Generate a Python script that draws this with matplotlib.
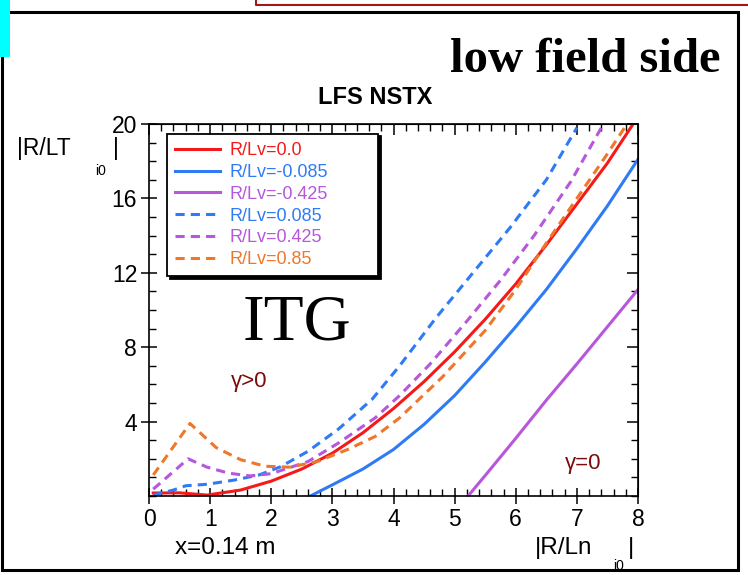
import matplotlib
matplotlib.use('Agg')
import matplotlib.pyplot as plt
from matplotlib.patches import Rectangle
from matplotlib.lines import Line2D

# --- data ---
red_x = [0.07, 0.5, 0.95, 1.5, 2.0, 2.5, 3.0, 3.5, 4.0, 4.5, 5.0, 5.5, 6.0, 6.5, 7.0, 7.5, 7.92]
red_y = [0.16, 0.17, 0.05, 0.32, 0.8, 1.45, 2.3, 3.4, 4.7, 6.15, 7.75, 9.5, 11.4, 13.5, 15.7, 17.9, 20.0]

blue_x = [2.64, 3.0, 3.5, 4.0, 4.5, 5.0, 5.5, 6.0, 6.5, 7.0, 7.5, 8.0]
blue_y = [0.0, 0.6, 1.45, 2.5, 3.85, 5.4, 7.2, 9.1, 11.1, 13.3, 15.6, 18.1]

purple_x = [5.22, 5.5, 6.0, 6.5, 7.0, 7.5, 8.0]
purple_y = [0.0, 1.1, 3.1, 5.15, 7.1, 9.1, 11.1]

blue_d_x = [0.07, 0.4, 0.6, 0.95, 1.4, 1.8, 2.15, 2.6, 3.1, 3.65, 4.1, 4.7, 5.3, 5.9, 6.5, 7.0]
blue_d_y = [0.05, 0.32, 0.55, 0.63, 0.86, 1.13, 1.57, 2.4, 3.6, 5.2, 7.0, 9.6, 12.0, 14.4, 17.0, 19.8]

purple_d_x = [0.07, 0.64, 0.95, 1.3, 1.65, 2.0, 2.6, 3.1, 3.7, 4.1, 4.6, 5.2, 5.75, 6.3, 6.9, 7.4]
purple_d_y = [0.37, 2.0, 1.55, 1.23, 1.08, 1.2, 1.85, 2.85, 4.2, 5.4, 7.1, 9.4, 11.6, 14.0, 16.9, 19.8]

orange_d_x = [0.07, 0.67, 1.1, 1.5, 1.9, 2.3, 2.75, 3.25, 3.7, 4.1, 4.8, 5.5, 6.0, 6.5, 7.0, 7.5, 7.82]
orange_d_y = [1.13, 3.9, 2.6, 1.95, 1.6, 1.55, 1.85, 2.5, 3.2, 4.2, 6.4, 8.9, 11.1, 13.6, 16.0, 18.4, 20.0]

labels = ['R/Lv=0.0', 'R/Lv=-0.085', 'R/Lv=-0.425', 'R/Lv=0.085', 'R/Lv=0.425', 'R/Lv=0.85']
colors = ['#f41a1a', '#2f7bf5', '#b657dc', '#2f7bf5', '#b657dc', '#f0762a']

x_ticks = [0, 1, 2, 3, 4, 5, 6, 7, 8]
y_ticks = [4, 8, 12, 16, 20]

plt.rcParams['font.family'] = ['Liberation Sans', 'DejaVu Sans']

W, H = 748, 575
fig = plt.figure(figsize=(W / 100, H / 100), dpi=100)

# decorations around the slide
fig.patches.append(Rectangle((1.5 / W, 1 - 570 / H), 736.5 / W, 558 / H, transform=fig.transFigure,
                             fill=False, edgecolor='black', linewidth=2.2))
fig.patches.append(Rectangle((0, 1 - 57 / H), 10 / W, 57 / H, transform=fig.transFigure,
                             facecolor='#00ffff', edgecolor='none'))
fig.lines.append(Line2D([256 / W, 256 / W, 1], [1.0, 1 - 5 / H, 1 - 5 / H], transform=fig.transFigure,
                        color='#a01818', linewidth=1.5))

ax = fig.add_axes([149 / W, 1 - 496 / H, 489 / W, 372 / H])

dash = (3, 2)
ax.plot(red_x, red_y, color=colors[0], lw=2.2, label=labels[0])
ax.plot(blue_x, blue_y, color=colors[1], lw=2.2, label=labels[1])
ax.plot(purple_x, purple_y, color=colors[2], lw=2.2, label=labels[2])
ax.plot(blue_d_x, blue_d_y, color=colors[3], lw=2.2, dashes=dash, label=labels[3])
ax.plot(purple_d_x, purple_d_y, color=colors[4], lw=2.2, dashes=dash, label=labels[4])
ax.plot(orange_d_x, orange_d_y, color=colors[5], lw=2.2, dashes=dash, label=labels[5])

ax.set_xlim(0, 8)
ax.set_ylim(0, 20)
ax.set_xticks(x_ticks)
ax.set_yticks(y_ticks)
ax.set_xticks([i * 0.2 for i in range(41)], minor=True)
ax.set_yticks(list(range(21)), minor=True)
ax.tick_params(which='major', direction='inout', length=11, width=1.1, labelsize=16.5, pad=3)
ax.tick_params(which='minor', direction='in', length=5, width=1.0)
for s in ax.spines.values():
    s.set_linewidth(1.2)

# ticks on top and right, pointing in, no labels
top = ax.secondary_xaxis('top')
top.set_xticks(x_ticks)
top.set_xticks([i * 0.2 for i in range(41)], minor=True)
top.tick_params(which='major', direction='in', length=8, width=1.1, labeltop=False)
top.tick_params(which='minor', direction='in', length=5, width=1.0)
right = ax.secondary_yaxis('right')
right.set_yticks(y_ticks)
right.set_yticks(list(range(21)), minor=True)
right.tick_params(which='major', direction='in', length=8, width=1.1, labelright=False)
right.tick_params(which='minor', direction='in', length=5, width=1.0)

leg = ax.legend(loc='upper left', bbox_to_anchor=(0.037, 0.6075, 0.432, 0.366), mode='expand',
                fontsize=13, frameon=True, fancybox=False, edgecolor='black', framealpha=1,
                shadow={'color': 'black', 'alpha': 1, 'ox': 1.8, 'oy': -1.8},
                handlelength=2.5, handletextpad=0.5, labelspacing=0.27,
                borderpad=0.45, borderaxespad=0, labelcolor='linecolor')
leg.get_frame().set_linewidth(1.3)

dark_red = '#7a0c0c'
fig.text(297 / W, 1 - 324 / H, 'ITG', fontsize=47, family='Liberation Serif',
         ha='center', va='center')
fig.text(249 / W, 1 - 381 / H, 'γ>0', color=dark_red, fontsize=16, ha='center', va='center')
fig.text(583 / W, 1 - 463 / H, 'γ=0', color=dark_red, fontsize=16, ha='center', va='center')

fig.text(720 / W, 1 - 72 / H, 'low field side', fontsize=35, fontweight='bold',
         family='Liberation Serif', ha='right', va='baseline')
fig.text(375 / W, 1 - 97 / H, 'LFS NSTX', fontsize=17, fontweight='bold', ha='center', va='center')

# axis labels assembled like the original
fig.text(17 / W, 1 - 148 / H, '|R/LT', fontsize=16.5, ha='left', va='center')
fig.text(101 / W, 1 - 171 / H, 'i0', fontsize=10, ha='center', va='center')
fig.text(116 / W, 1 - 148 / H, '|', fontsize=16.5, ha='center', va='center')

fig.text(175 / W, 1 - 548 / H, 'x=0.14 m', fontsize=17.5, ha='left', va='center')
fig.text(535 / W, 1 - 548 / H, '|R/Ln', fontsize=17.5, ha='left', va='center')
fig.text(619 / W, 1 - 566 / H, 'i0', fontsize=10, ha='center', va='center')
fig.text(631 / W, 1 - 548 / H, '|', fontsize=17.5, ha='center', va='center')

fig.savefig('out.png', dpi=100)
